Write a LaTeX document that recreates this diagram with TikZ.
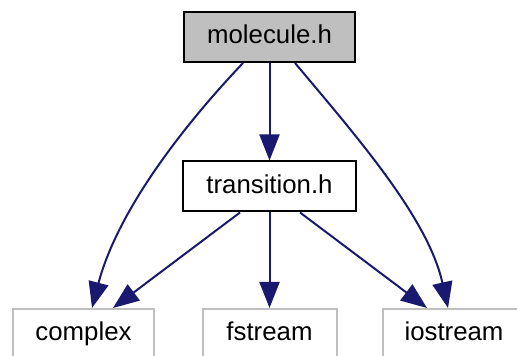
\documentclass[tikz,border=0pt]{standalone}
\usepackage{fontspec}
\setmainfont{Liberation Sans}
\usetikzlibrary{arrows.meta}
\definecolor{edgeblue}{HTML}{191970}
\definecolor{mainfill}{HTML}{BFBFBF}
\definecolor{extgray}{HTML}{BFBFBF}
\tikzset{
  hbox/.style={draw=black, line width=1pt, minimum height=25pt, inner sep=0pt,
    font=\fontsize{12.9}{15}\selectfont, text height=9.3pt, text depth=2.6pt},
  extbox/.style={draw=extgray, line width=1pt, minimum height=25pt, inner sep=0pt,
    font=\fontsize{12.9}{15}\selectfont, text height=9.3pt, text depth=2.6pt},
  dep/.style={draw=edgeblue, line width=1pt,
    -{Triangle[length=13pt, width=10pt]}},
}
\begin{document}
\begin{tikzpicture}[x=0.5pt, y=-0.5pt]
\useasboundingbox (0,0) rectangle (517,356);
\clip (0,0) rectangle (517,356);
\node[hbox, fill=mainfill, minimum width=85.5pt] (mol) at (269.5,37) {molecule.h};
\node[hbox, fill=white, minimum width=86.5pt] (trans) at (269.5,186.5) {transition.h};
\node[extbox, minimum width=70.5pt] (complex) at (83.5,334) {complex};
\node[extbox, minimum width=67pt] (fstream) at (269.5,334) {fstream};
\node[extbox, minimum width=71pt] (iostream) at (454,334) {iostream};
% edges
\draw[dep] ([xshift=-13.25pt]mol.south) .. controls (170,140) and (115,220) .. ([xshift=4.25pt]complex.north);
\draw[dep] (mol.south) -- (trans.north);
\draw[dep] ([xshift=12.75pt]mol.south) .. controls (357,137) and (428,218) .. ([xshift=-3pt]iostream.north);
\draw[dep] ([xshift=-14.75pt]trans.south) -- ([xshift=14.75pt]complex.north);
\draw[dep] (trans.south) -- (fstream.north);
\draw[dep] ([xshift=15.25pt]trans.south) -- ([xshift=-13.5pt]iostream.north);
\end{tikzpicture}
\end{document}
